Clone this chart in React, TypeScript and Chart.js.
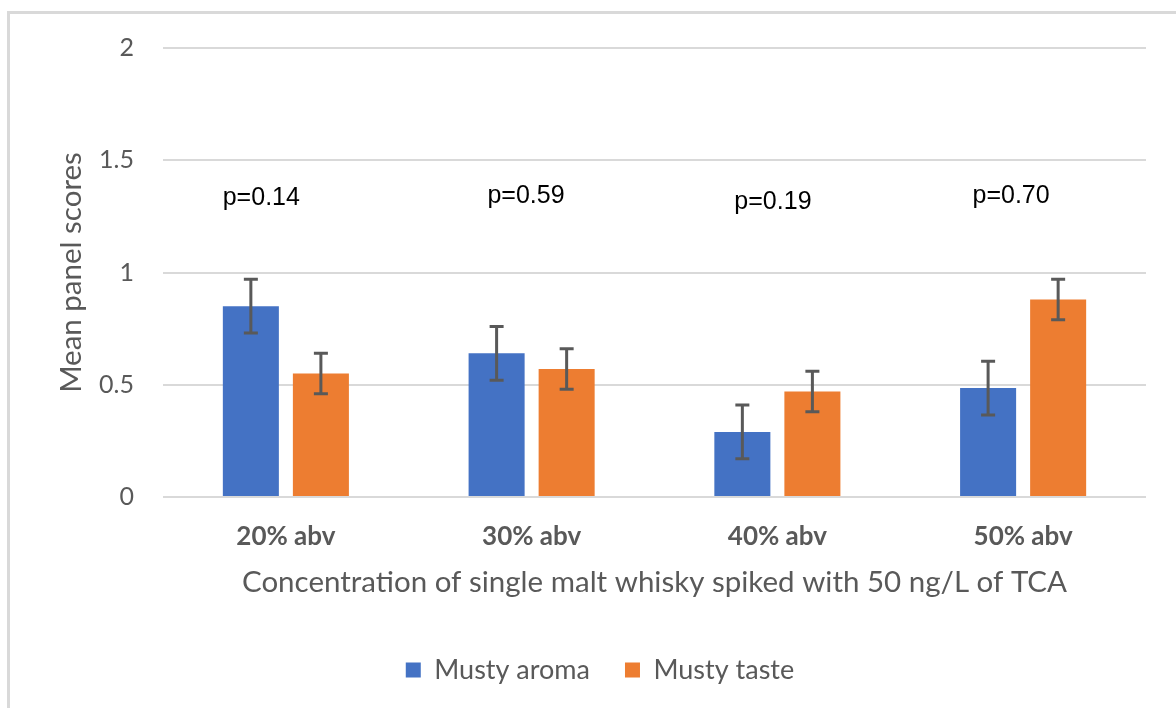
import React, { useEffect, useRef } from "react";
import { Chart, registerables } from "chart.js";

Chart.register(...registerables);

const categories = ["20% abv", "30% abv", "40% abv", "50% abv"];
const seriesNames = ["Musty aroma", "Musty taste"];
const mustyAroma = [0.85, 0.64, 0.29, 0.485];
const mustyTaste = [0.55, 0.57, 0.47, 0.88];
const aromaError = [0.12, 0.12, 0.12, 0.12];
const tasteError = [0.09, 0.09, 0.09, 0.09];
const pLabels = ["p=0.14", "p=0.59", "p=0.19", "p=0.70"];
const pLabelX = [-0.1, -0.023, -0.018, -0.049];
const pLabelY = [1.34, 1.35, 1.325, 1.35];
const yTickLabels = ["0", "0.5", "1", "1.5", "2"];

const BLUE = "#4472C4";
const ORANGE = "#ED7D31";
const GREY = "#595959";

const errorBarsPlugin = {
  id: "errorBars",
  afterDatasetsDraw(chart: any) {
    const ctx = chart.ctx;
    const yScale = chart.scales.y;
    const errs = [aromaError, tasteError];
    ctx.save();
    ctx.strokeStyle = GREY;
    ctx.lineWidth = 3;
    chart.data.datasets.forEach((ds: any, di: number) => {
      const meta = chart.getDatasetMeta(di);
      meta.data.forEach((el: any, i: number) => {
        const v = ds.data[i];
        const e = errs[di][i];
        const yTop = yScale.getPixelForValue(v + e);
        const yBot = yScale.getPixelForValue(v - e);
        const x = el.x;
        ctx.beginPath();
        ctx.moveTo(x, yTop);
        ctx.lineTo(x, yBot);
        ctx.moveTo(x - 7, yTop);
        ctx.lineTo(x + 7, yTop);
        ctx.moveTo(x - 7, yBot);
        ctx.lineTo(x + 7, yBot);
        ctx.stroke();
      });
    });
    ctx.restore();
  },
};

const pValuePlugin = {
  id: "pValues",
  afterDatasetsDraw(chart: any) {
    const ctx = chart.ctx;
    const xs = chart.scales.x;
    const ys = chart.scales.y;
    ctx.save();
    ctx.fillStyle = "#000000";
    ctx.font = "25px 'Liberation Sans', Arial, sans-serif";
    ctx.textAlign = "center";
    ctx.textBaseline = "alphabetic";
    pLabels.forEach((t, i) => {
      const x = xs.getPixelForValue(i + pLabelX[i]);
      const y = ys.getPixelForValue(pLabelY[i]);
      ctx.fillText(t, x, y + 9);
    });
    ctx.restore();
  },
};

export default function App() {
  const canvasRef = useRef<HTMLCanvasElement | null>(null);

  useEffect(() => {
    if (!canvasRef.current) return;
    const chart = new Chart(canvasRef.current, {
      type: "bar",
      data: {
        labels: categories,
        datasets: [
          {
            label: seriesNames[0],
            data: mustyAroma,
            backgroundColor: BLUE,
            categoryPercentage: 0.57,
            barPercentage: 0.8,
          },
          {
            label: seriesNames[1],
            data: mustyTaste,
            backgroundColor: ORANGE,
            categoryPercentage: 0.57,
            barPercentage: 0.8,
          },
        ],
      },
      options: {
        responsive: false,
        animation: false,
        devicePixelRatio: 1,
        layout: { padding: { left: 54, right: 30, top: 48, bottom: 14.4 } },
        scales: {
          x: {
            grid: { display: false, drawTicks: false },
            border: { display: false },
            ticks: {
              color: GREY,
              font: { family: "Lato", size: 26, weight: "bold" },
              padding: 24,
            },
            title: {
              display: true,
              text: "Concentration of single malt whisky spiked with 50 ng/L of TCA",
              color: GREY,
              font: { family: "Lato", size: 29.5 },
              padding: { top: 0, bottom: 21 },
            },
            afterFit(scale: any) {
              scale.height = 124.6;
            },
          },
          y: {
            min: 0,
            max: 2,
            grid: { color: "#d9d9d9", lineWidth: 2, drawTicks: false },
            border: { display: false },
            ticks: {
              stepSize: 0.5,
              color: GREY,
              font: { family: "Lato", size: 25 },
              padding: 29,
              callback: (_v: any, i: number) => yTickLabels[i],
            },
            title: {
              display: true,
              text: "Mean panel scores",
              color: GREY,
              font: { family: "Lato", size: 29.5 },
              padding: { top: 0, bottom: 0 },
            },
            afterFit(scale: any) {
              scale.width = 109;
            },
          },
        },
        plugins: {
          legend: {
            position: "bottom",
            labels: {
              boxWidth: 15,
              boxHeight: 15,
              padding: 35,
              color: GREY,
              font: { family: "Lato", size: 27 },
            },
          },
          tooltip: { enabled: false },
        },
      },
      plugins: [errorBarsPlugin, pValuePlugin],
    } as any);
    return () => chart.destroy();
  }, []);

  return (
    <div
      style={{
        position: "fixed",
        left: 0,
        top: 0,
        width: 1176,
        height: 708,
        overflow: "hidden",
        background: "#ffffff",
      }}
    >
      <div
        style={{
          position: "absolute",
          left: 7,
          top: 11,
          width: 1400,
          height: 1000,
          border: "3px solid #d9d9d9",
          boxSizing: "border-box",
        }}
      />
      <canvas
        ref={canvasRef}
        width={1176}
        height={708}
        style={{ position: "absolute", left: 0, top: 0, width: 1176, height: 708 }}
      />
    </div>
  );
}
